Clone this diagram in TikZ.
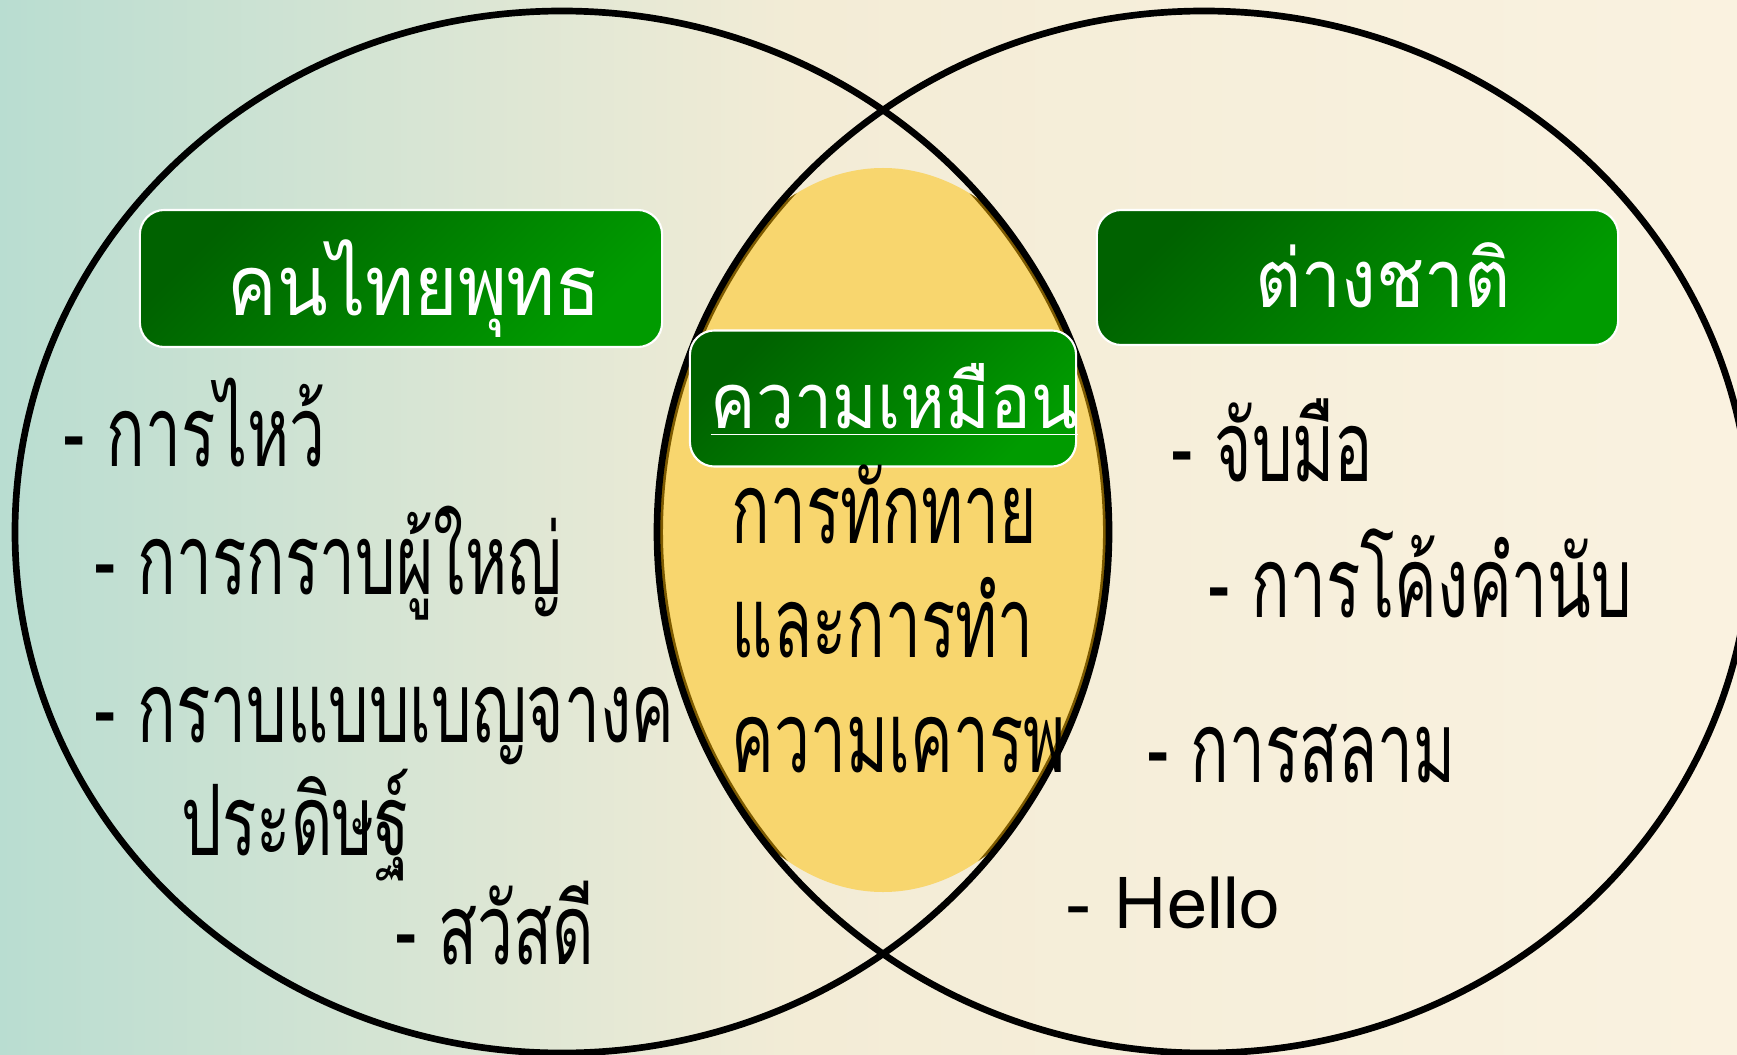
\documentclass[tikz,border=0pt]{standalone}
\usepackage{fontspec}
\newfontfamily\thaifont[Script=Thai,FakeStretch=0.65]{Loma}
\newfontfamily\thaihead[Script=Thai,FakeStretch=0.88]{Loma}
\newfontfamily\latinfont{Loma}
\usepackage{tikz}
\usetikzlibrary{positioning,shadings}
\definecolor{bgteal}{RGB}{185,221,209}
\definecolor{bgcream}{RGB}{243,236,214}
\definecolor{bgright}{RGB}{250,242,224}
\definecolor{lensfill}{RGB}{248,214,110}
\definecolor{lensedge}{RGB}{125,90,0}
\definecolor{boxdark}{RGB}{0,98,0}
\definecolor{boxlight}{RGB}{0,155,0}

\begin{document}
\begin{tikzpicture}[x=0.01cm,y=-0.01cm,
 headbox/.style={draw=white,line width=0.6pt,rounded corners=7pt,top color=boxdark,bottom color=boxlight,shading angle=45,inner sep=0pt},
 headtext/.style={anchor=base west,inner sep=0pt,text=white,font=\thaihead\fontsize{24}{28}\selectfont},
 itemtext/.style={anchor=base west,inner sep=0pt,font=\thaifont\fontsize{28}{32}\selectfont},
 ring/.style={line width=1.9pt}]
\useasboundingbox (0,0) rectangle (1737,1055);
\shade[left color=bgteal,right color=bgcream](0,0) rectangle (800,1055);
\shade[left color=bgcream,right color=bgright](800,0) rectangle (1737,1055);
%lens
\begin{scope}
\clip (562,532) ellipse [x radius=547,y radius=521];
\clip (1204,532) ellipse [x radius=547,y radius=521];
\fill[lensfill](883,530) ellipse [x radius=235,y radius=362];
\clip (883,530) ellipse [x radius=235,y radius=362];
\draw[lensedge,line width=3.4pt](562,532) ellipse [x radius=547,y radius=521];
\draw[lensedge,line width=3.4pt](1204,532) ellipse [x radius=547,y radius=521];
\end{scope}
\draw[ring](562,532) ellipse [x radius=547,y radius=521];
\draw[ring](1204,532) ellipse [x radius=547,y radius=521];
%headers
\node[headbox,minimum width=5.22cm,minimum height=1.37cm] (thaibox) at (401,278.5) {};
\node[headbox,minimum width=5.21cm,minimum height=1.35cm] (foreignbox) at (1357.5,277.5) {};
\node[headbox,minimum width=3.86cm,minimum height=1.36cm] (samebox) at (883,398.5) {};
\node[headtext] (thaihead) at (227,316) {คนไทยพุทธ};
\node[headtext,font=\thaihead\fontsize{23}{28}\selectfont] (foreignhead) at (1255,308) {ต่างชาติ};
\node[headtext,font=\thaihead\fontsize{22}{26}\selectfont] (samehead) at (710,429) {\underline{ความเหมือน}};
%left
\node[itemtext] (wai) at (63,466) {- การไหว้};
\node[itemtext] (krab) at (94,594) {- การกราบผู้ใหญ่};
\node[itemtext] (benja) at (94,742) {- กราบแบบเบญจางค};
\node[itemtext] (pradit) at (181,855) {ประดิษฐ์};
\node[itemtext] (sawasdee) at (395,964) {- สวัสดี};
%middle
\node[itemtext] (greet) at (731,543) {การทักทาย};
\node[itemtext] (andshow) at (731,657) {และการทำ};
\node[itemtext] (respect) at (731,772) {ความเคารพ};
%right
\node[itemtext] (shake) at (1171,481) {- จับมือ};
\node[itemtext] (bow) at (1208,617) {- การโค้งคำนับ};
\node[itemtext] (salam) at (1147,782) {- การสลาม};
\node[itemtext,font=\latinfont\fontsize{20.5}{24}\selectfont] (hello) at (1066,928) {- Hello};
\end{tikzpicture}
\end{document}
